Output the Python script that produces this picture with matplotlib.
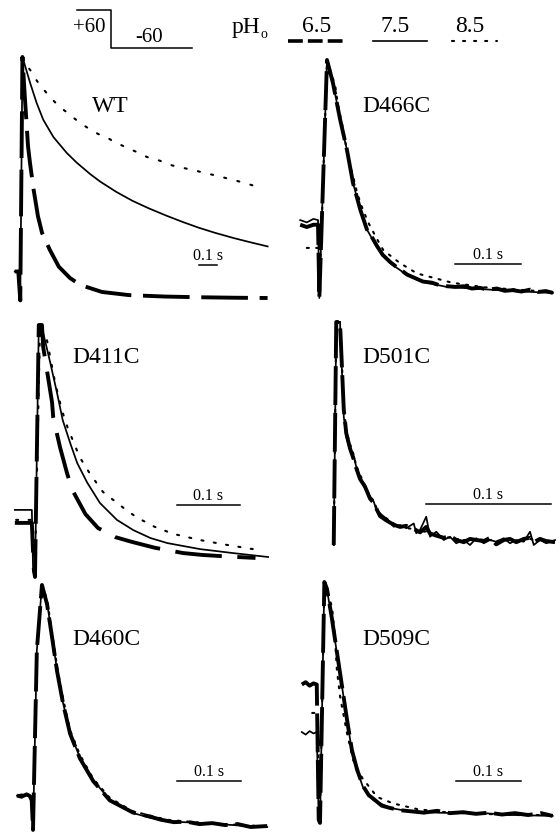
import matplotlib
matplotlib.use("Agg")
import matplotlib.pyplot as plt

plt.rcParams['font.family'] = ['Liberation Serif', 'DejaVu Serif']

# ---------------- data (time in s from step onset, current normalised: peak=1, steady=0)
# WT
WT_t65 = [-0.035, -0.015, -0.004, 0.008, 0.02, 0.039, 0.05, 0.07, 0.094, 0.117, 0.16, 0.21, 0.272, 0.33, 0.45, 0.6, 0.8, 1.0, 1.2, 1.37]
WT_i65 = [0.11, 0.11, -0.01, 1.0, 0.85, 0.63, 0.56, 0.45, 0.34, 0.27, 0.2, 0.13, 0.083, 0.054, 0.025, 0.012, 0.006, 0.003, 0.001, 0.0]
WT_t75 = [-0.035, -0.015, -0.004, 0.008, 0.02, 0.05, 0.087, 0.124, 0.18, 0.254, 0.309, 0.383, 0.44, 0.53, 0.62, 0.71, 0.81, 0.90, 0.99, 1.08, 1.18, 1.27, 1.37]
WT_i75 = [0.11, 0.11, -0.01, 1.0, 0.97, 0.894, 0.809, 0.739, 0.668, 0.602, 0.562, 0.515, 0.483, 0.44, 0.403, 0.372, 0.341, 0.315, 0.291, 0.27, 0.249, 0.232, 0.214]
WT_t85 = [0.011, 0.022, 0.054, 0.078, 0.109, 0.143, 0.18, 0.217, 0.257, 0.3, 0.337, 0.383, 0.43, 0.476, 0.517, 0.596, 0.639, 0.70, 0.77, 0.84, 0.90, 0.96, 1.10, 1.23, 1.32]
WT_i85 = [1.0, 0.974, 0.943, 0.912, 0.88, 0.85, 0.819, 0.792, 0.769, 0.743, 0.722, 0.7, 0.68, 0.667, 0.648, 0.621, 0.607, 0.585, 0.57, 0.55, 0.54, 0.53, 0.505, 0.48, 0.46]

# D466C
D466_t65 = [-0.03, -0.02, -0.01, -0.003, -0.001, 0.0106, 0.0197, 0.030, 0.041, 0.050, 0.061, 0.071, 0.080, 0.086, 0.095, 0.106, 0.115, 0.125, 0.132, 0.14, 0.156, 0.17, 0.18, 0.192, 0.205, 0.218, 0.23, 0.242, 0.255, 0.268, 0.28, 0.292, 0.305, 0.318, 0.33, 0.342, 0.353]
D466_i65 = [0.29, 0.28, 0.29, 0.29, -0.026, 1.0, 0.90, 0.75, 0.61, 0.47, 0.355, 0.27, 0.23, 0.20, 0.16, 0.13, 0.11, 0.09, 0.075, 0.065, 0.045, 0.04, 0.03, 0.025, 0.022, 0.025, 0.015, 0.018, 0.01, 0.015, 0.005, 0.008, 0.002, 0.01, 0.0, 0.004, -0.004]
D466_t75 = [-0.03, -0.02, -0.01, -0.003, -0.001, 0.0106, 0.0197, 0.030, 0.041, 0.050, 0.061, 0.071, 0.086, 0.106, 0.132, 0.156, 0.192, 0.242, 0.292, 0.353]
D466_i75 = [0.31, 0.30, 0.315, 0.31, -0.026, 1.0, 0.90, 0.75, 0.61, 0.47, 0.355, 0.27, 0.194, 0.125, 0.073, 0.043, 0.022, 0.013, 0.004, -0.004]
D466_t85 = [-0.02, -0.003, -0.001, 0.0106, 0.023, 0.027, 0.033, 0.038, 0.042, 0.050, 0.056, 0.063, 0.073, 0.086, 0.096, 0.121, 0.147, 0.2, 0.25, 0.3, 0.353]
D466_i85 = [0.19, 0.19, -0.026, 1.0, 0.89, 0.81, 0.73, 0.655, 0.58, 0.50, 0.43, 0.37, 0.30, 0.23, 0.18, 0.125, 0.08, 0.04, 0.02, 0.01, 0.0]

# D411C
D411_t65 = [-0.032, -0.005, -0.002, 0.0, 0.006, 0.011, 0.013, 0.027, 0.029, 0.040, 0.051, 0.059, 0.080, 0.10, 0.127, 0.154, 0.19, 0.235, 0.265, 0.30, 0.35]
D411_i65 = [0.147, 0.147, -0.05, -0.086, 1.0, 1.0, 0.905, 0.668, 0.60, 0.47, 0.36, 0.29, 0.185, 0.125, 0.086, 0.065, 0.04, 0.017, 0.009, 0.003, -0.004]
D411_t75 = [-0.032, -0.005, -0.003, 0.0, 0.006, 0.011, 0.013, 0.024, 0.035, 0.044, 0.056, 0.067, 0.083, 0.103, 0.130, 0.156, 0.183, 0.21, 0.262, 0.314, 0.37]
D411_i75 = [0.203, 0.203, -0.06, -0.086, 1.0, 1.0, 0.966, 0.84, 0.707, 0.59, 0.49, 0.405, 0.32, 0.233, 0.16, 0.116, 0.082, 0.06, 0.034, 0.017, 0.0]
D411_t85 = [-0.03, -0.005, 0.0, 0.008, 0.019, 0.032, 0.043, 0.052, 0.071, 0.087, 0.108, 0.146, 0.162, 0.19, 0.219, 0.262, 0.305, 0.346, 0.36]
D411_i85 = [0.16, 0.16, -0.05, 1.0, 0.935, 0.75, 0.63, 0.556, 0.43, 0.36, 0.28, 0.20, 0.17, 0.13, 0.10, 0.073, 0.052, 0.034, 0.03]

# D501C
D501_t = [-0.001, 0.001, 0.004, 0.007, 0.009, 0.012, 0.015, 0.017, 0.02, 0.024, 0.028, 0.031, 0.033, 0.036, 0.041, 0.047, 0.052, 0.057, 0.063, 0.065, 0.068, 0.073, 0.076, 0.081, 0.087, 0.092, 0.097, 0.103, 0.108, 0.113, 0.119, 0.124, 0.129, 0.135, 0.14, 0.145, 0.151, 0.156, 0.159, 0.164, 0.169, 0.176]
D501_i65 = [-0.023, 1.0, 1.0, 0.6, 0.49, 0.42, 0.37, 0.33, 0.28, 0.245, 0.19, 0.17, 0.145, 0.11, 0.09, 0.07, 0.06, 0.065, 0.05, 0.045, 0.035, 0.06, 0.03, 0.02, 0.01, 0.02, 0.0, -0.01, 0.005, 0.0, -0.005, 0.01, -0.02, 0.0, 0.005, -0.01, 0.005, 0.01, -0.01, 0.005, -0.005, -0.01]
D501_i75 = [-0.023, 1.0, 1.0, 0.566, 0.474, 0.413, 0.382, 0.336, 0.29, 0.237, 0.199, 0.176, 0.138, 0.122, 0.099, 0.061, 0.069, 0.054, 0.076, 0.031, 0.046, 0.107, 0.015, 0.038, 0.0, 0.015, -0.015, 0.0, -0.023, 0.008, -0.015, 0.0, -0.008, 0.008, -0.015, 0.0, -0.008, 0.038, -0.023, 0.0, -0.015, 0.0]
D501_i85 = [-0.023, 1.0, 1.0, 0.62, 0.50, 0.44, 0.39, 0.34, 0.30, 0.25, 0.20, 0.18, 0.15, 0.12, 0.10, 0.075, 0.065, 0.055, 0.05, 0.04, 0.035, 0.04, 0.03, 0.02, 0.015, 0.01, 0.005, 0.0, 0.0, 0.005, 0.0, 0.0, -0.005, 0.0, 0.0, -0.005, 0.0, 0.005, 0.0, 0.0, -0.005, 0.0]

# D460C
D460_t75 = [-0.025, -0.018, -0.01, -0.005, -0.002, 0.0, 0.006, 0.014, 0.022, 0.030, 0.0375, 0.047, 0.058, 0.073, 0.094, 0.12, 0.156, 0.18, 0.209, 0.235, 0.261, 0.287, 0.313, 0.34, 0.366]
D460_i75 = [0.13, 0.135, 0.13, 0.13, 0.11, -0.012, 0.73, 1.0, 0.926, 0.785, 0.649, 0.512, 0.388, 0.289, 0.194, 0.112, 0.058, 0.04, 0.025, 0.02, 0.017, 0.012, 0.008, 0.004, 0.0]
D460_t65 = [-0.025, -0.018, -0.01, -0.005, -0.002, 0.0, 0.006, 0.014, 0.022, 0.030, 0.0375, 0.047, 0.058, 0.073, 0.094, 0.12, 0.156, 0.18, 0.2, 0.22, 0.24, 0.26, 0.28, 0.3, 0.32, 0.34, 0.366]
D460_i65 = [0.13, 0.125, 0.135, 0.128, 0.11, -0.012, 0.73, 1.0, 0.92, 0.78, 0.645, 0.51, 0.385, 0.285, 0.19, 0.11, 0.06, 0.045, 0.03, 0.02, 0.022, 0.012, 0.016, 0.008, 0.012, 0.0, 0.004]
D460_t85 = [0.014, 0.022, 0.030, 0.0375, 0.047, 0.058, 0.073, 0.094, 0.12, 0.156, 0.209, 0.261, 0.313, 0.366]
D460_i85 = [1.0, 0.94, 0.80, 0.665, 0.53, 0.40, 0.30, 0.20, 0.12, 0.065, 0.03, 0.018, 0.01, 0.002]

# D509C
D509_t65 = [-0.028, -0.022, -0.016, -0.01, -0.005, -0.002, 0.0, 0.0067, 0.0108, 0.0185, 0.026, 0.034, 0.0415, 0.049, 0.057, 0.066, 0.075, 0.082, 0.095, 0.108, 0.125, 0.143, 0.16, 0.18, 0.2, 0.22, 0.24, 0.26, 0.28, 0.3, 0.32, 0.34, 0.358]
D509_i65 = [0.56, 0.57, 0.555, 0.565, 0.56, -0.02, -0.034, 1.0, 0.97, 0.84, 0.70, 0.55, 0.41, 0.28, 0.195, 0.125, 0.085, 0.07, 0.04, 0.03, 0.02, 0.015, 0.01, 0.018, 0.008, 0.012, 0.005, 0.01, 0.002, 0.008, 0.0, 0.008, -0.004]
D509_t75 = [-0.028, -0.022, -0.016, -0.01, -0.005, -0.002, 0.0, 0.0067, 0.0108, 0.0185, 0.026, 0.034, 0.0415, 0.049, 0.057, 0.066, 0.082, 0.108, 0.143, 0.195, 0.246, 0.297, 0.358]
D509_i75 = [0.356, 0.345, 0.36, 0.35, 0.356, -0.02, -0.034, 1.0, 0.966, 0.837, 0.695, 0.549, 0.408, 0.279, 0.193, 0.12, 0.064, 0.03, 0.013, 0.009, 0.009, 0.0, -0.004]
D509_t85 = [-0.012, -0.005, 0.0, 0.0067, 0.0185, 0.023, 0.026, 0.031, 0.0415, 0.051, 0.065, 0.088, 0.1, 0.112, 0.15, 0.2, 0.25, 0.3, 0.358]
D509_i85 = [0.438, 0.438, -0.03, 1.0, 0.893, 0.764, 0.622, 0.506, 0.352, 0.236, 0.159, 0.077, 0.064, 0.05, 0.025, 0.01, 0.005, 0.0, 0.0]

PANEL_NAMES = ["WT", "D466C", "D411C", "D501C", "D460C", "D509C"]
PH_LABELS = ["6.5", "7.5", "8.5"]
VOLT_LABELS = ["+60", "-60"]
SCALE_BAR_S = 0.1
SCALE_LABEL = "0.1 s"

traces = {
    "WT": ((WT_t65, WT_i65), (WT_t75, WT_i75), (WT_t85, WT_i85)),
    "D466C": ((D466_t65, D466_i65), (D466_t75, D466_i75), (D466_t85, D466_i85)),
    "D411C": ((D411_t65, D411_i65), (D411_t75, D411_i75), (D411_t85, D411_i85)),
    "D501C": ((D501_t, D501_i65), (D501_t, D501_i75), (D501_t, D501_i85)),
    "D460C": ((D460_t65, D460_i65), (D460_t75, D460_i75), (D460_t85, D460_i85)),
    "D509C": ((D509_t65, D509_i65), (D509_t75, D509_i75), (D509_t85, D509_i85)),
}

# ---------------- layout (pixels)
W, H = 560, 835
layout = {
    "WT":    dict(rect=(8, 50, 278, 305),   t0=21,  pps=180,  y0=298, y1=57,  lab=(92, 112),  bar=(199, 265), dash=(12, 3), dot=(1, 5.5)),
    "D466C": dict(rect=(290, 50, 560, 305), t0=320, pps=660,  y0=292, y1=60,  lab=(362, 112), bar=(455, 264), dash=(10, 2), dot=(1, 3.5)),
    "D411C": dict(rect=(8, 315, 278, 580),  t0=35,  pps=630,  y0=557, y1=325, lab=(72, 363),  bar=(177, 505), dash=(12, 4), dot=(1, 5)),
    "D501C": dict(rect=(290, 315, 560, 580), t0=335, pps=1250, y0=540, y1=322, lab=(362, 363), bar=(426, 504), dash=(10, 2), dot=(1, 3)),
    "D460C": dict(rect=(8, 575, 278, 835),  t0=33,  pps=640,  y0=827, y1=585, lab=(72, 645),  bar=(177, 781), dash=(10, 2), dot=(1, 3.5)),
    "D509C": dict(rect=(290, 575, 560, 835), t0=320, pps=650, y0=815, y1=582, lab=(362, 645), bar=(456, 781), dash=(10, 2), dot=(1, 3.5)),
}

fig = plt.figure(figsize=(W / 100, H / 100), dpi=100)
fig.patch.set_facecolor("white")

for name in PANEL_NAMES:
    L = layout[name]
    l, t, r, b = L["rect"]
    ax = fig.add_axes([l / W, 1 - b / H, (r - l) / W, (b - t) / H])
    ax.set_xlim((l - L["t0"]) / L["pps"], (r - L["t0"]) / L["pps"])
    span = L["y0"] - L["y1"]
    ax.set_ylim((L["y0"] - b) / span, (L["y0"] - t) / span)
    ax.axis("off")
    (t65, i65), (t75, i75), (t85, i85) = traces[name]
    ax.plot(t65, i65, color="black", lw=2.8, linestyle=(0, L["dash"]),
            solid_capstyle="butt", dash_capstyle="butt", clip_on=False)
    ax.plot(t75, i75, color="black", lw=1.25, clip_on=False)
    ax.plot(t85, i85, color="black", lw=1.5, linestyle=(0, L["dot"]),
            dash_capstyle="round", clip_on=False)
    # scale bar
    bx, by = L["bar"]
    bt = (bx - L["t0"]) / L["pps"]
    bi = (L["y0"] - by) / span
    ax.plot([bt, bt + SCALE_BAR_S], [bi, bi], color="black", lw=1.1, clip_on=False)
    ax.annotate(SCALE_LABEL, xy=(bt + SCALE_BAR_S / 2, bi), xytext=(0, 3.5),
                textcoords="offset points", ha="center", va="baseline", fontsize=11.5)

# overlay in pixel coordinates for header and labels
ov = fig.add_axes([0, 0, 1, 1])
ov.set_xlim(0, W)
ov.set_ylim(H, 0)
ov.axis("off")
ov.patch.set_alpha(0)

for name in PANEL_NAMES:
    x, y = layout[name]["lab"]
    ov.text(x, y, name, fontsize=17, ha="left", va="baseline")

# voltage protocol
ov.plot([77, 111, 111, 192], [10, 10, 48, 48], color="black", lw=1.1)
ov.text(73, 32, VOLT_LABELS[0], fontsize=15, va="baseline")
ov.text(135, 42, VOLT_LABELS[1], fontsize=15, va="baseline")

# pH legend
ov.text(232, 33, "pH", fontsize=17, va="baseline")
ov.text(260.5, 38, "o", fontsize=10, va="baseline")
ov.text(302, 32, PH_LABELS[0], fontsize=17, va="baseline")
ov.text(380, 32, PH_LABELS[1], fontsize=17, va="baseline")
ov.text(455, 32, PH_LABELS[2], fontsize=17, va="baseline")
ov.plot([288, 343], [41, 41], color="black", lw=2.6, linestyle=(0, (4.1, 1.4)), dash_capstyle="butt")
ov.plot([373, 427], [41, 41], color="black", lw=1.2)
ov.plot([452, 497], [41, 41], color="black", lw=1.5, linestyle=(0, (1, 4.3)), dash_capstyle="round")

fig.savefig("out.png", dpi=100, facecolor="white")
